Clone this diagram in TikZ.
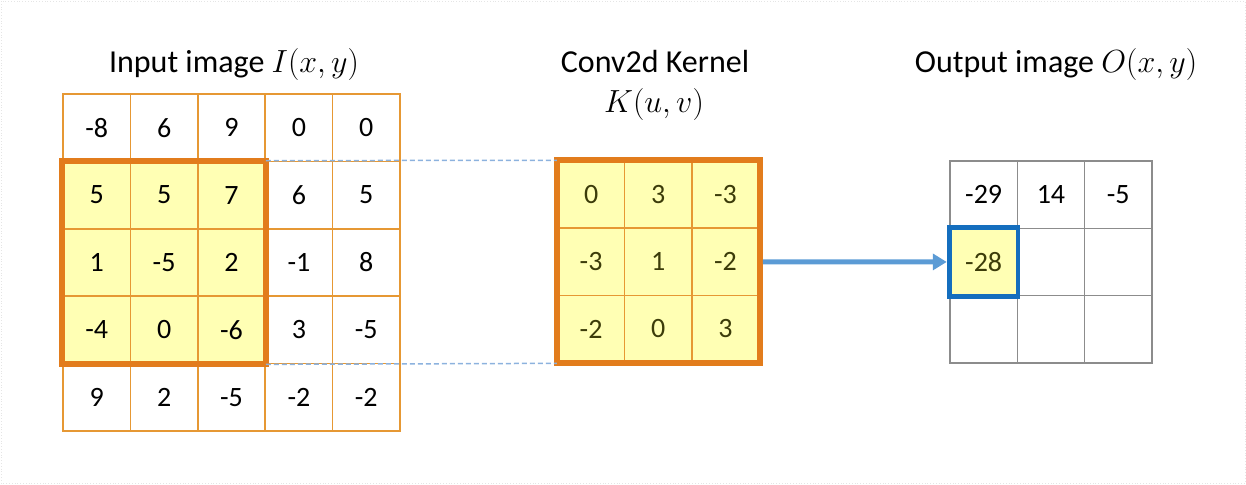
\RequirePackage{fix-cm}
\documentclass[tikz,border=0pt]{standalone}
\usepackage{fontspec}
\setmainfont{Carlito}
\usetikzlibrary{arrows.meta}
\definecolor{gridor}{RGB}{230,152,52}
\definecolor{hlor}{RGB}{226,124,28}
\definecolor{yel}{RGB}{255,255,180}
\definecolor{olivetxt}{RGB}{60,60,10}
\definecolor{dashbl}{RGB}{140,178,222}
\definecolor{arrbl}{RGB}{91,155,213}
\definecolor{outbl}{RGB}{20,110,190}
\definecolor{gridgr}{RGB}{140,140,140}
\begin{document}
\begin{tikzpicture}[x=1pt,y=-1pt,
  cellbox/.style={draw=gridor,line width=1.5pt,minimum size=67.4pt,inner sep=0pt,
    font=\fontsize{28}{30}\selectfont,anchor=center},
  kcell/.style={cellbox,minimum size=67.2pt,fill=yel,text=olivetxt},
  ocell/.style={cellbox,draw=gridgr,minimum size=67.3pt},
  titletxt/.style={font=\fontsize{32}{38}\selectfont,anchor=base,inner sep=0pt},
  hlbox/.style={draw=hlor,line width=6pt},
  dashln/.style={draw=dashbl,line width=1.5pt,dash pattern=on 5pt off 3pt},
  arrowln/.style={draw=arrbl,line width=5pt,-{Triangle[length=14pt,width=16pt]}},
  outhl/.style={draw=outbl,line width=4.5pt}]
\useasboundingbox (0,0) rectangle (1246,484);
\draw[gray!20,line width=0.8pt,dotted] (1,1) rectangle (1245,483);

% titles
\node[titletxt] (tin) at (234,73) {Input image $I(x,y)$};
\node[titletxt] (tk1) at (655,73) {Conv2d Kernel};
\node[titletxt] (tk2) at (654,113) {$K(u,v)$};
\node[titletxt] (tout) at (1056,73) {Output image $O(x,y)$};

% input grid
\foreach \row [count=\r from 0] in {{-8,6,9,0,0},{5,5,7,6,5},{1,-5,2,-1,8},{-4,0,-6,3,-5},{9,2,-5,-2,-2}}{
  \foreach \v [count=\c from 0] in \row {
    \pgfmathtruncatemacro{\hl}{and(and(\r>0,\r<4),\c<3)}
    \ifnum\hl=1 \def\fc{yel}\else\def\fc{white}\fi
    \node[cellbox,fill=\fc] (in-\r-\c) at ({63+67.4*(\c+0.5)},{94+67.4*(\r+0.5)}) {\v};
  }
}
\draw[hlbox] (in-1-0.north west) rectangle (in-3-2.south east);

% kernel
\foreach \row [count=\r from 0] in {{0,3,-3},{-3,1,-2},{-2,0,3}}{
  \foreach \v [count=\c from 0] in \row {
    \node[kcell] (k-\r-\c) at ({557.5+67.2*(\c+0.5)},{161+67.2*(\r+0.5)}) {\v};
  }
}
\draw[hlbox] (k-0-0.north west) rectangle (k-2-2.south east);

% dashed guides
\draw[dashln] (in-1-2.north east) -- (k-0-0.north west);
\draw[dashln] (in-3-2.south east) -- (k-2-0.south west);

% output grid
\node[ocell] (o-0-0) at ({950+67.3*0.5},{161+67.3*0.5}) {-29};
\node[ocell] (o-0-1) at ({950+67.3*1.5},{161+67.3*0.5}) {14};
\node[ocell] (o-0-2) at ({950+67.3*2.5},{161+67.3*0.5}) {-5};
\node[ocell,fill=yel,text=olivetxt] (o-1-0) at ({950+67.3*0.5},{161+67.3*1.5}) {-28};
\node[ocell] (o-1-1) at ({950+67.3*1.5},{161+67.3*1.5}) {};
\node[ocell] (o-1-2) at ({950+67.3*2.5},{161+67.3*1.5}) {};
\node[ocell] (o-2-0) at ({950+67.3*0.5},{161+67.3*2.5}) {};
\node[ocell] (o-2-1) at ({950+67.3*1.5},{161+67.3*2.5}) {};
\node[ocell] (o-2-2) at ({950+67.3*2.5},{161+67.3*2.5}) {};
\draw[outhl] (o-1-0.north west) rectangle (o-1-0.south east);

% arrow
\draw[arrowln,shorten <=3pt,shorten >=2.5pt] (k-1-2.east) -- (o-1-0.west);
\end{tikzpicture}
\end{document}
